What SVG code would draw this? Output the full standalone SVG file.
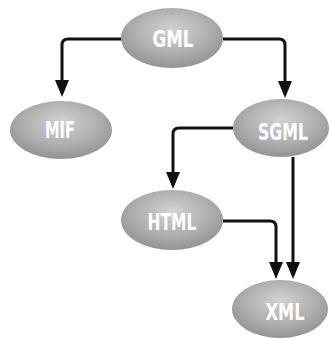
<svg xmlns="http://www.w3.org/2000/svg" width="329" height="339" viewBox="0 0 329 339">
<defs>
<radialGradient id="g" cx="50%" cy="40%" r="60%" fx="50%" fy="35%">
<stop offset="0" stop-color="#d2d2d2"/>
<stop offset="0.6" stop-color="#b0b0b0"/>
<stop offset="1" stop-color="#939393"/>
</radialGradient>
<marker id="arr" viewBox="0 0 17 14" refX="13" refY="7" markerWidth="17" markerHeight="14" markerUnits="userSpaceOnUse" orient="auto">
<path d="M0,0 L17,7 L0,14 z" fill="#111"/>
</marker>
<style>
.n ellipse{fill:url(#g);}
.n text{font-family:"DejaVu Sans Condensed","Liberation Sans Narrow","Liberation Sans",sans-serif;font-weight:bold;font-size:23px;fill:#fff;text-anchor:middle;}
.c path{fill:none;stroke:#111;stroke-width:3;marker-end:url(#arr);}
</style>
</defs>
<rect width="329" height="339" fill="#fff"/>
<g class="c" id="connectors">
<path d="M122,39 H68 Q62,39 62,45 V93"/>
<path d="M223,39 H279 Q285,39 285,45 V94"/>
<path d="M233,128 H179 Q173,128 173,134 V185"/>
<path d="M293,157 V275"/>
<path d="M223,221 H270 Q276,221 276,227 V275"/>
</g>
<g class="n" id="GML"><ellipse cx="172" cy="38" rx="51" ry="30"/><text x="173" y="47" textLength="41" lengthAdjust="spacingAndGlyphs">GML</text></g>
<g class="n" id="MIF"><ellipse cx="61" cy="130" rx="51" ry="29"/><text x="60" y="138" textLength="30" lengthAdjust="spacingAndGlyphs">MIF</text></g>
<g class="n" id="SGML"><ellipse cx="281" cy="128" rx="48" ry="29"/><text x="283" y="140" textLength="50" lengthAdjust="spacingAndGlyphs">SGML</text></g>
<g class="n" id="HTML"><ellipse cx="172" cy="220" rx="51" ry="30"/><text x="172" y="230" textLength="49" lengthAdjust="spacingAndGlyphs">HTML</text></g>
<g class="n" id="XML"><ellipse cx="280" cy="309" rx="48" ry="29"/><text x="285" y="320" textLength="39" lengthAdjust="spacingAndGlyphs">XML</text></g>
</svg>
